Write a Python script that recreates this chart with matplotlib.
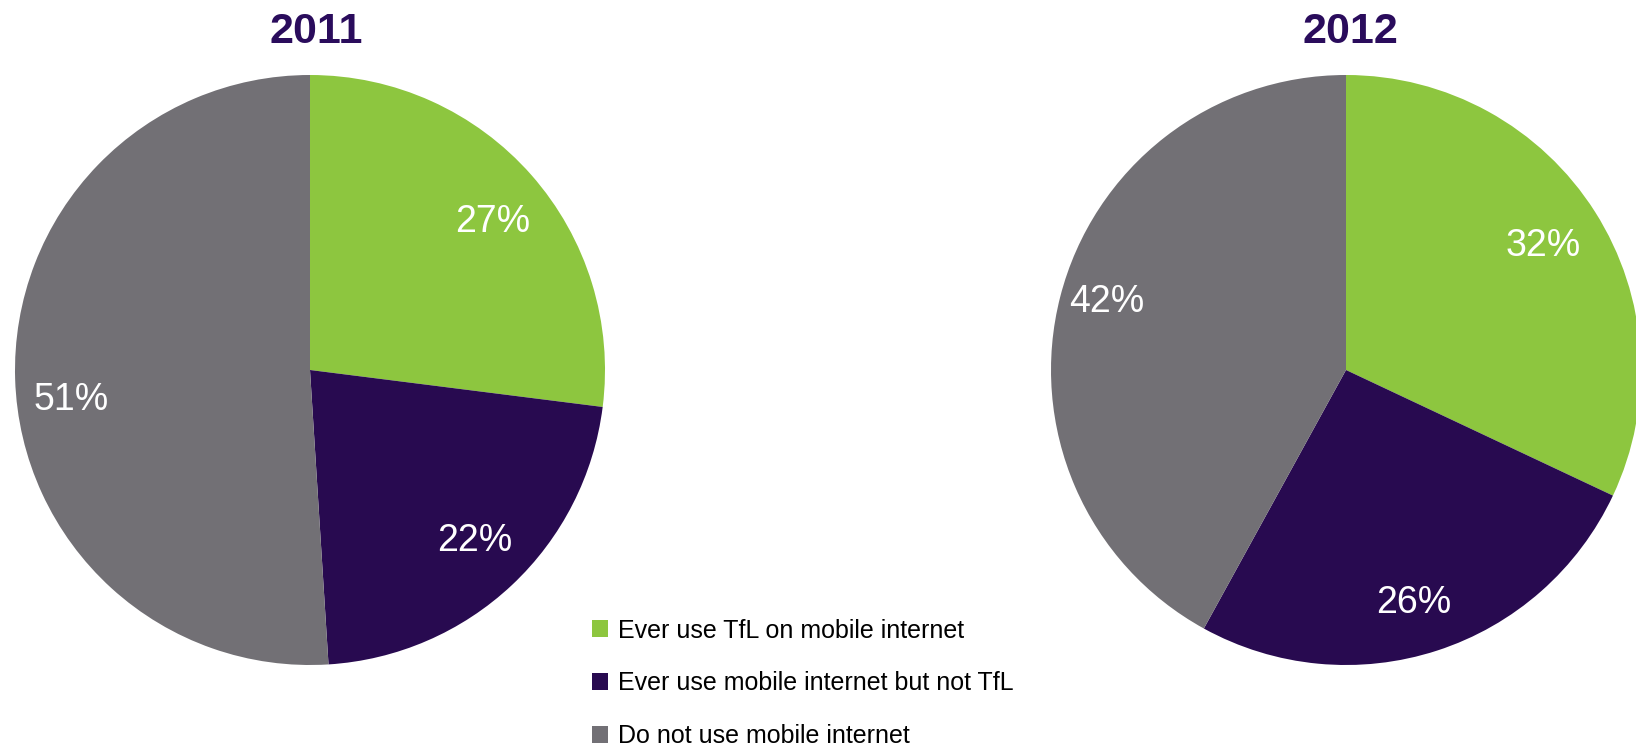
"""Mobile internet use among respondents, 2011 vs 2012 (two pies, shared legend)."""

import matplotlib.pyplot as plt
from matplotlib.patches import Patch

W, H = 1636, 752

YEARS = ["2011", "2012"]
CATEGORIES = [
    "Ever use TfL on mobile internet",
    "Ever use mobile internet but not TfL",
    "Do not use mobile internet",
]
SHARES_2011 = [27, 22, 51]
SHARES_2012 = [32, 26, 42]
COLORS = ["#8DC63F", "#280A50", "#727075"]
TITLE_COLOR = "#2A0C5C"

# percentage label placement inside each pie (pie radius = 1)
LABEL_POS_2011 = [(0.62, 0.50), (0.56, -0.58), (-0.81, -0.10)]
LABEL_POS_2012 = [(0.67, 0.42), (0.23, -0.79), (-0.81, 0.23)]

plt.rcParams["font.family"] = ["Liberation Sans", "DejaVu Sans"]


def px_axes(fig, cx, cy, r):
    """Axes box (figure fraction) for a pie of radius r centred at pixel (cx, cy), y from top."""
    return fig.add_axes([(cx - r) / W, (H - cy - r) / H, 2 * r / W, 2 * r / H])


def draw_pie(ax, values, label_pos):
    wedges, _, autotexts = ax.pie(
        values,
        colors=COLORS,
        startangle=90,
        counterclock=False,
        autopct="%d%%",
        pctdistance=0.8,
        radius=1.0,
        wedgeprops={"linewidth": 0},
        textprops={"color": "white", "fontsize": 27},
    )
    for t, pos in zip(autotexts, label_pos):
        t.set_position(pos)
    ax.set_xlim(-1, 1)
    ax.set_ylim(-1, 1)
    ax.set_aspect("equal")
    ax.axis("off")
    return wedges


fig = plt.figure(figsize=(W / 100, H / 100), dpi=100)

ax_left = px_axes(fig, 310, 370, 295)
ax_right = px_axes(fig, 1346, 370, 295)

draw_pie(ax_left, SHARES_2011, LABEL_POS_2011)
draw_pie(ax_right, SHARES_2012, LABEL_POS_2012)

for cx, year in zip([316, 1350], YEARS):
    fig.text(cx / W, 1 - 32 / H, year, ha="center", va="center",
             fontsize=31, fontweight="bold", color=TITLE_COLOR)

handles = [Patch(facecolor=c, edgecolor="none") for c in COLORS]
fig.legend(
    handles,
    CATEGORIES,
    loc="upper left",
    bbox_to_anchor=(579 / W, 1 - 606 / H),
    frameon=False,
    fontsize=18,
    handlelength=0.65,
    handleheight=0.65,
    handletextpad=0.4,
    labelspacing=1.15,
    borderpad=0,
)

fig.savefig("out.png", dpi=100, facecolor="white")
